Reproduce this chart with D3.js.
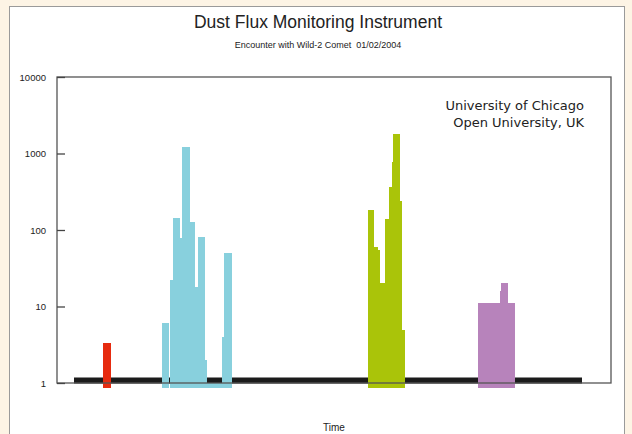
<!DOCTYPE html>
<html>
<head>
<meta charset="utf-8">
<script src="https://cdn.jsdelivr.net/npm/d3@7"></script>
<style>
body { margin: 0; background: #fdf4e5; }
svg { display: block; }
text { font-family: "Liberation Sans", Arial, sans-serif; fill: #222; }
</style>
</head>
<body>
<svg id="chart" width="632" height="434"></svg>
<script>
// time in seconds from start of record, flux in counts
var TIME_DOMAIN = [0, 554];
var FLUX_TICKS = [1, 10, 100, 1000, 10000];
var BASELINE = [17, 525];

// [start, end, flux]
var redBins = [[46, 54, 3.3]];
var cyanBins = [[104.7, 111.3, 6], [113, 115.7, 22], [115.7, 123, 143],
		[123, 125.3, 78], [125.3, 133, 1200], [133, 138, 128],
		[138, 141.3, 18], [141.3, 148, 80], [148, 149.7, 2],
		[149.7, 164.7, 1], [164.7, 166.5, 4], [166.5, 174.5, 50]];
var greenBins = [[311.3, 317, 183], [317, 321, 60], [321, 323, 55],
		[323, 328, 20], [328, 332.3, 140], [332.3, 334.7, 370],
		[334.7, 336.3, 780], [336.3, 343, 1800], [343, 344.7, 240],
		[344.7, 347.3, 5]];
var purpleBins = [[421.3, 443, 11], [443, 444, 16], [444, 450.3, 20.5],
		[450.3, 457.3, 11]];

var TITLE = "Dust Flux Monitoring Instrument";
var SUBTITLE = "Encounter with Wild-2 Comet  01/02/2004";
var CREDITS = ["University of Chicago", "Open University, UK"];
var X_LABEL = "Time";

var FLOOR = 0.87;

var svg = d3.select("#chart");

// white card
svg.append("rect") //
.attr("x", 9.5) //
.attr("y", 6.5) //
.attr("width", 615) //
.attr("height", 440) //
.attr("fill", "#fff") //
.attr("stroke", "#9a9a9a");

var x = d3.scaleLinear().domain(TIME_DOMAIN).range([57, 611]);
var y = d3.scaleLog().domain([1, 10000]).range([383, 77]);

var plot = svg.append("g");

// black baseline
plot.append("rect") //
.attr("x", x(BASELINE[0])) //
.attr("y", y(1.18)) //
.attr("width", x(BASELINE[1]) - x(BASELINE[0])) //
.attr("height", y(0.985) - y(1.18)) //
.attr("fill", "#1b1b1b");

function drawBins(bins, color) {

	plot.append("g").selectAll("rect").data(bins).enter().append("rect") //
	.attr("x", function(d) {
		return (x(d[0]));
	}) //
	.attr("y", function(d) {
		return (y(d[2]));
	}) //
	.attr("width", function(d) {
		return (x(d[1]) - x(d[0]) + 0.3);
	}) //
	.attr("height", function(d) {
		return (y(FLOOR) - y(d[2]));
	}) //
	.attr("fill", color) //
	.attr("shape-rendering", "crispEdges");

}// END: drawBins

drawBins(redBins, "#e62b0f");
drawBins(cyanBins, "#88d0dd");
drawBins(greenBins, "#aac409");
drawBins(purpleBins, "#b783bb");

// frame
svg.append("rect") //
.attr("x", 57) //
.attr("y", 77) //
.attr("width", 554) //
.attr("height", 306) //
.attr("fill", "none") //
.attr("stroke", "#555") //
.attr("stroke-width", 1.3);

var yAxis = d3.axisLeft(y) //
.tickValues(FLUX_TICKS) //
.tickFormat(d3.format("d")) //
.tickSizeInner(-8) //
.tickSizeOuter(0) //
.tickPadding(11);

var gy = svg.append("g") //
.attr("transform", "translate(57,0)") //
.call(yAxis);
gy.select(".domain").remove();
gy.selectAll(".tick line").attr("stroke", "#444").attr("stroke-width", 1.3);
gy.selectAll(".tick text") //
.style("font-family", "'Liberation Sans', Arial, sans-serif") //
.style("font-size", "9.5px") //
.attr("fill", "#333");

svg.append("text") //
.attr("x", 318) //
.attr("y", 28) //
.attr("text-anchor", "middle") //
.style("font-size", "17.5px") //
.text(TITLE);

svg.append("text") //
.attr("x", 318) //
.attr("y", 48) //
.attr("text-anchor", "middle") //
.style("font-size", "9px") //
.style("white-space", "pre") //
.text(SUBTITLE);

svg.append("g").selectAll("text").data(CREDITS).enter().append("text") //
.attr("x", 584) //
.attr("y", function(d, i) {
	return (109.5 + i * 17.5);
}) //
.attr("text-anchor", "end") //
.style("font-family", "'DejaVu Sans', sans-serif") //
.style("font-size", "13px") //
.attr("fill", "#222") //
.text(function(d) {
	return (d);
});

svg.append("text") //
.attr("x", 334) //
.attr("y", 431) //
.attr("text-anchor", "middle") //
.style("font-size", "10px") //
.text(X_LABEL);
</script>
</body>
</html>
